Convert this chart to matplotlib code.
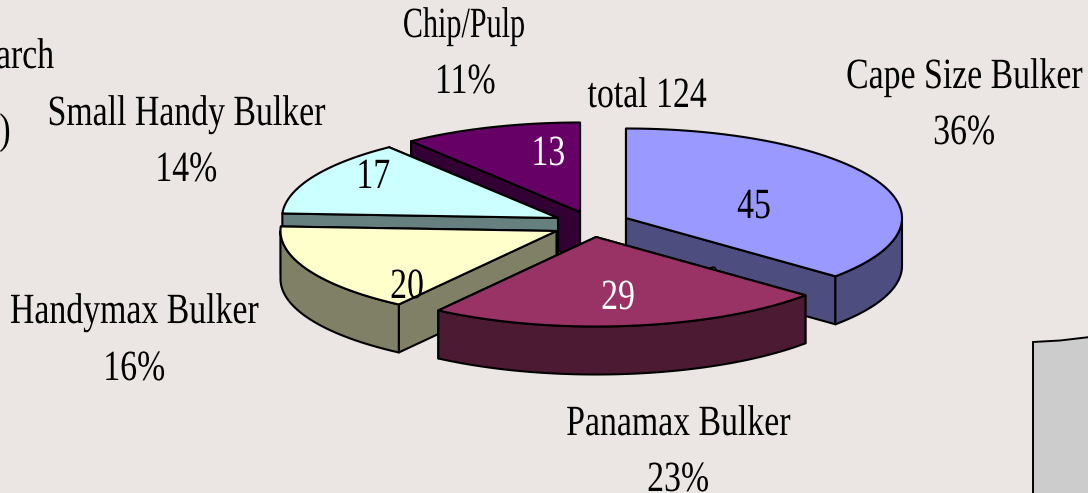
#!/usr/bin/env python3
# -*- coding: utf-8 -*-
import numpy as np
import matplotlib

matplotlib.use("Agg")
import matplotlib.pyplot as plt
import matplotlib.patheffects as pe
from matplotlib.patches import Arc, Polygon
from matplotlib.transforms import Affine2D

# chart data, clockwise from 12 o'clock
categories = [
    "Cape Size Bulker",
    "Panamax Bulker",
    "Handymax Bulker",
    "Small Handy Bulker",
    "Chip/Pulp",
]
values = [45, 29, 20, 17, 13]
percent_labels = ["36%", "23%", "16%", "14%", "11%"]
total_label = "total 124"

top_colors = ["#9999FF", "#993366", "#FFFFCC", "#CCFFFF", "#660066"]
side_colors = ["#4D4D80", "#4D1A33", "#808066", "#668080", "#330033"]
value_colors = ["black", "white", "black", "black", "white"]

# layout, in picture pixels
BG = "#EBE6E3"
RX, RY, DEPTH = 276, 89.5, 48
apex = [(626, 218), (596, 237), (556.5, 231), (558, 218), (580, 212)]
value_pos = [(754, 218), (618, 309), (407, 298), (373, 188), (548, 165)]
name_pos = [(964, 88), (678, 435), (134, 323), (186, 125), (464, 37)]
percent_pos = [(964, 144), (678, 491), (134, 380), (186, 181), (465, 93)]
name_squeeze = [0.785, 0.785, 0.785, 0.785, 0.7]
draw_order = [4, 3, 2, 0, 1]
FONT = "Liberation Serif"
FONT_SIZE = 31


class Condense(pe.AbstractPathEffect):
    # the original text is squeezed sideways, no narrow serif font is installed
    def __init__(self, sx=0.785):
        super().__init__()
        self.sx = sx

    def draw_path(self, renderer, gc, tpath, affine, rgbFace=None):
        box = tpath.get_extents()
        cx = (box.x0 + box.x1) / 2
        squeeze = Affine2D().translate(-cx, 0).scale(self.sx, 1).translate(cx, 0)
        renderer.draw_path(gc, tpath, squeeze + affine, rgbFace)


def rim_point(center, deg):
    a = np.radians(deg)
    return center[0] + RX * np.sin(a), center[1] - RY * np.cos(a)


def arc_points(center, start, end):
    n = max(2, int(abs(end - start)) + 1)
    return [rim_point(center, d) for d in np.linspace(start, end, n)]


def drop(points):
    return [(x, y + DEPTH) for x, y in points]


def draw_slice(ax, center, start, end, top, side):
    style = dict(edgecolor="black", linewidth=1.5, joinstyle="round")
    first = rim_point(center, start)
    last = rim_point(center, end)

    # cut faces, back one first
    faces = sorted([first, last], key=lambda p: p[1])
    for p in faces:
        quad = [center, p, (p[0], p[1] + DEPTH), (center[0], center[1] + DEPTH)]
        ax.add_patch(Polygon(quad, closed=True, facecolor=side, **style))

    # outer wall, only the part turned to the viewer
    lo, hi = max(start, 90), min(end, 270)
    if lo < hi:
        wall = arc_points(center, lo, hi)
        ax.add_patch(
            Polygon(wall + drop(wall)[::-1], closed=True, facecolor=side, **style)
        )

    outline = [center] + arc_points(center, start, end)
    ax.add_patch(Polygon(outline, closed=True, facecolor=top, **style))


def label(ax, x, y, s, color="black", ha="center", sx=0.785):
    ax.text(
        x, y, s, color=color, ha=ha, va="baseline", family=FONT,
        fontsize=FONT_SIZE, path_effects=[Condense(sx)],
    )


def main():
    fig = plt.figure(figsize=(10.88, 4.93), dpi=100, facecolor=BG)
    ax = fig.add_axes([0, 0, 1, 1])
    ax.set_xlim(0, 1088)
    ax.set_ylim(493, 0)
    ax.axis("off")

    # corner of the grey box at the lower right
    ax.add_patch(
        Polygon(
            [(1033, 342), (1060, 340.5), (1090, 337), (1090, 495), (1033, 495)],
            closed=True, facecolor="#CCCCCC", edgecolor="black", linewidth=1.4,
        )
    )

    edges = np.cumsum([0] + values) / sum(values) * 360
    for i in draw_order:
        draw_slice(ax, apex[i], edges[i], edges[i + 1], top_colors[i], side_colors[i])

    # stray mark left on the Panamax edge
    ax.add_patch(Arc((713, 270), 6, 6, theta1=180, theta2=360, color="black", lw=1))

    for i, name in enumerate(categories):
        label(ax, *name_pos[i], name, sx=name_squeeze[i])
        label(ax, *percent_pos[i], percent_labels[i])
        label(ax, *value_pos[i], str(values[i]), color=value_colors[i])
    label(ax, 647, 107, total_label)
    label(ax, 62, 68, "arch", ha="right")
    label(ax, 5, 143, ")")

    fig.savefig("out.png", dpi=100, facecolor=BG)


if __name__ == "__main__":
    main()
